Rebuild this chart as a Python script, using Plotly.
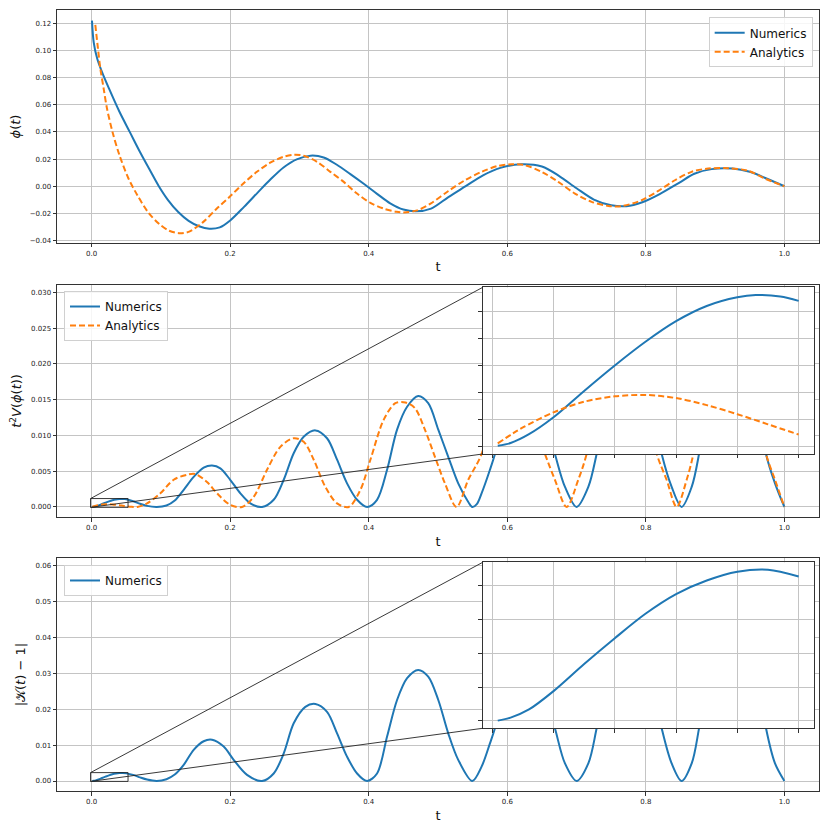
import plotly.graph_objects as go

# ---------------- data ----------------
# panel 1: phi(t)
phi_num_t = [0.0005, 0.003, 0.008, 0.015, 0.025, 0.04, 0.055, 0.07, 0.085, 0.097, 0.11,
             0.125, 0.14, 0.155, 0.17, 0.185, 0.2, 0.22, 0.24, 0.258, 0.277, 0.296, 0.316,
             0.335, 0.354, 0.3735, 0.3928, 0.412, 0.431, 0.45, 0.468, 0.49, 0.515, 0.54,
             0.565, 0.59, 0.62, 0.65, 0.675, 0.70, 0.725, 0.75, 0.772, 0.795, 0.82, 0.848,
             0.87, 0.895, 0.925, 0.95, 0.975, 1.0]
phi_num = [0.1220, 0.106, 0.094, 0.084, 0.072, 0.055, 0.040, 0.025, 0.011, 0.0, -0.010,
           -0.019, -0.0255, -0.0295, -0.0313, -0.0303, -0.0252, -0.0152, -0.0045, 0.0049,
           0.0138, 0.0198, 0.0225, 0.0212, 0.0158, 0.0089, 0.0018, -0.0056, -0.0126, -0.0172,
           -0.0185, -0.0165, -0.008, 0.0, 0.008, 0.0135, 0.0162, 0.0145, 0.0075, -0.0015,
           -0.0098, -0.014, -0.0147, -0.0118, -0.0058, 0.0025, 0.0092, 0.0126, 0.013, 0.0106,
           0.0055, 0.0]

phi_ana_t = [0.0053, 0.0091, 0.0125, 0.0173, 0.0221, 0.03, 0.04, 0.053, 0.066, 0.082, 0.098,
             0.112, 0.126, 0.14, 0.16, 0.18, 0.2, 0.219, 0.2386, 0.2578, 0.2771, 0.2916, 0.306,
             0.3253, 0.3446, 0.3639, 0.3831, 0.4024, 0.4217, 0.44, 0.4506, 0.4699, 0.4892,
             0.515, 0.5389, 0.5629, 0.587, 0.6063, 0.6255, 0.6496, 0.6736, 0.6977, 0.7218,
             0.7458, 0.7651, 0.794, 0.818, 0.842, 0.866, 0.89, 0.919, 0.948, 0.972, 1.0]
phi_ana = [0.1188, 0.1016, 0.0869, 0.0721, 0.0574, 0.0402, 0.0231, 0.0059, -0.0066, -0.0195,
           -0.0280, -0.0328, -0.0346, -0.0336, -0.0268, -0.0168, -0.0074, 0.002, 0.0106, 0.0173,
           0.0217, 0.0232, 0.0225, 0.018, 0.0106, 0.0032, -0.0054, -0.0123, -0.0165, -0.0188,
           -0.0193, -0.0178, -0.0128, -0.0035, 0.0044, 0.0106, 0.015, 0.0162, 0.0155, 0.0106,
           0.0032, -0.0054, -0.0115, -0.0145, -0.0147, -0.0103, -0.0034, 0.0044, 0.0106, 0.013,
           0.0133, 0.0113, 0.0056, 0.0]

# panel 2: t^2 V(phi(t))
pot_num_t = [0.0009, 0.003, 0.006, 0.01, 0.015, 0.02, 0.025, 0.03, 0.035, 0.04, 0.043, 0.047,
             0.05, 0.06, 0.07, 0.08, 0.094, 0.108, 0.12, 0.1329, 0.1473, 0.1617, 0.1738, 0.1858,
             0.2, 0.2147, 0.2291, 0.246, 0.2628, 0.2773, 0.2917, 0.3061, 0.323, 0.3398, 0.3543,
             0.3687, 0.3832, 0.3976, 0.412, 0.4265, 0.4409, 0.4554, 0.4714, 0.4859, 0.5004,
             0.5148, 0.5292, 0.5437, 0.5495, 0.556, 0.5629, 0.575, 0.5822, 0.60, 0.623, 0.645,
             0.6688, 0.6833, 0.7001, 0.717, 0.729, 0.75, 0.775, 0.80, 0.8229, 0.8373, 0.8517,
             0.8662, 0.8768, 0.90, 0.927, 0.95, 0.9735, 0.9865, 1.0]
pot_num = [0.000005, 0.000025, 0.00009, 0.000215, 0.00041, 0.000598, 0.000773, 0.000925,
           0.001037, 0.001101, 0.001118, 0.001108, 0.001075, 0.0008, 0.00045, 0.00015, 0.0,
           0.0002, 0.0009, 0.0024, 0.0042, 0.0055, 0.0058, 0.0054, 0.0038, 0.0019, 0.0005, 0.0,
           0.001, 0.0038, 0.0075, 0.0098, 0.0107, 0.0096, 0.0066, 0.0033, 0.001, 0.0, 0.001,
           0.0052, 0.0108, 0.014, 0.0155, 0.0145, 0.0108, 0.007, 0.0033, 0.0007, 0.0, 0.0004,
           0.0019, 0.0052, 0.0074, 0.0145, 0.0203, 0.016, 0.0074, 0.0028, 0.0, 0.0028, 0.0074,
           0.018, 0.025, 0.018, 0.0074, 0.0028, 0.0, 0.0028, 0.0074, 0.022, 0.0296, 0.022,
           0.0074, 0.0033, 0.0]

pot_ana_t = [0.0009, 0.0035, 0.005, 0.01, 0.015, 0.02, 0.025, 0.03, 0.035, 0.04, 0.045, 0.05,
             0.058, 0.066, 0.08, 0.0992, 0.1184, 0.1377, 0.1497, 0.1665, 0.181, 0.2, 0.2171,
             0.2339, 0.2532, 0.2724, 0.2917, 0.3061, 0.3206, 0.3374, 0.3543, 0.3711, 0.388,
             0.4024, 0.4217, 0.4385, 0.453, 0.4667, 0.4811, 0.4956, 0.51, 0.5268, 0.5437,
             0.5629, 0.585, 0.605, 0.625, 0.6544, 0.6688, 0.6857, 0.7025, 0.7146, 0.74, 0.76,
             0.785, 0.8157, 0.83, 0.8445, 0.859, 0.8686, 0.895, 0.915, 0.94, 0.9735, 0.9865, 1.0]
pot_ana = [0.000022, 0.0001, 0.00014, 0.000252, 0.00033, 0.00037, 0.00038, 0.000357, 0.000305,
           0.000238, 0.000163, 0.000088, 0.00002, 0.0, 0.0005, 0.0019, 0.0038, 0.0045, 0.0046,
           0.0035, 0.0019, 0.0003, 0.0, 0.0014, 0.0052, 0.0084, 0.0096, 0.0091, 0.0066, 0.0028,
           0.0005, 0.0, 0.0024, 0.0066, 0.0122, 0.0145, 0.0146, 0.0138, 0.0108, 0.007, 0.0033,
           0.0, 0.0038, 0.0074, 0.016, 0.0195, 0.016, 0.0074, 0.0038, 0.0, 0.0038, 0.0074,
           0.019, 0.024, 0.019, 0.0074, 0.0038, 0.0, 0.0038, 0.0074, 0.022, 0.0285, 0.023,
           0.0074, 0.0038, 0.0]

# panel 3: |K(t) - 1|
k_num_t = [0.0009, 0.003, 0.006, 0.01, 0.015, 0.02, 0.025, 0.03, 0.035, 0.04, 0.045, 0.05,
           0.06, 0.07, 0.08, 0.094, 0.108, 0.12, 0.1329, 0.1473, 0.1617, 0.1738, 0.1906, 0.205,
           0.2243, 0.246, 0.2628, 0.2773, 0.2917, 0.3085, 0.323, 0.3398, 0.3543, 0.3687,
           0.3832, 0.3976, 0.412, 0.4265, 0.4409, 0.4554, 0.4714, 0.4859, 0.5004, 0.5148,
           0.5292, 0.5495, 0.5629, 0.575, 0.5822, 0.60, 0.623, 0.645, 0.6688, 0.6833, 0.7001,
           0.717, 0.729, 0.75, 0.775, 0.80, 0.8229, 0.8373, 0.8517, 0.8662, 0.8768, 0.90,
           0.925, 0.95, 0.9735, 0.9865, 1.0]
k_num = [0.000005, 0.00005, 0.00017, 0.00044, 0.00084, 0.00122, 0.00158, 0.00187, 0.00207,
         0.0022, 0.00223, 0.00213, 0.0017, 0.0010, 0.0004, 0.0, 0.0005, 0.0018, 0.0045, 0.0087,
         0.0111, 0.0115, 0.0096, 0.0059, 0.0017, 0.0, 0.0021, 0.0077, 0.0161, 0.0207, 0.0215,
         0.0193, 0.0133, 0.0068, 0.0021, 0.0, 0.0021, 0.0124, 0.0226, 0.0287, 0.031, 0.0291,
         0.0226, 0.0133, 0.0059, 0.0, 0.004, 0.0105, 0.0147, 0.028, 0.0408, 0.031, 0.0147,
         0.0049, 0.0, 0.0049, 0.0147, 0.036, 0.0505, 0.036, 0.0147, 0.0049, 0.0, 0.0049,
         0.0147, 0.043, 0.059, 0.043, 0.0147, 0.0049, 0.0]

# ticks
t_ticks = [0.0, 0.2, 0.4, 0.6, 0.8, 1.0]
t_ticktext = ["0.0", "0.2", "0.4", "0.6", "0.8", "1.0"]
phi_ticks = [-0.04, -0.02, 0.0, 0.02, 0.04, 0.06, 0.08, 0.10, 0.12]
phi_ticktext = ["\u22120.04", "\u22120.02", "0.00", "0.02", "0.04", "0.06", "0.08", "0.10", "0.12"]
pot_ticks = [0.0, 0.005, 0.010, 0.015, 0.020, 0.025, 0.030]
pot_ticktext = ["0.000", "0.005", "0.010", "0.015", "0.020", "0.025", "0.030"]
k_ticks = [0.0, 0.01, 0.02, 0.03, 0.04, 0.05, 0.06]
k_ticktext = ["0.00", "0.01", "0.02", "0.03", "0.04", "0.05", "0.06"]
inset_t_ticks = [0.0, 0.01, 0.02, 0.03, 0.04, 0.05]
inset_pot_ticks = [0.0, 0.0002, 0.0004, 0.0006, 0.0008, 0.0010]
inset_k_ticks = [0.0, 0.0005, 0.0010, 0.0015, 0.0020]

ZOOM_T = 0.05  # the insets show t <= 0.05

BLUE = "#1f77b4"
ORANGE = "#ff7f0e"
FONT = "DejaVu Sans"

# ---------------- layout geometry ----------------
MAIN_X = [0.0, 1.0]
DOM_TOP = [0.7017, 1.0]
DOM_MID = [0.3505, 0.6483]
DOM_BOT = [0.0, 0.298]
INSET_X = [0.5587, 0.9938]
INSET_MID_Y = [0.4315, 0.6449]
INSET_BOT_Y = [0.0803, 0.2928]

T_RANGE = [-0.05, 1.05]
PHI_RANGE = [-0.0418, 0.1298]
POT_RANGE = [-0.00144, 0.03106]
K_RANGE = [-0.00279, 0.06215]
INSET_T_RANGE = [-0.00155, 0.05255]
INSET_POT_RANGE = [-0.000056, 0.001175]
INSET_K_RANGE = [-0.000108, 0.002339]

fig = go.Figure()


def sel(ts, vs):
    pairs = [(a, b) for a, b in zip(ts, vs) if a <= ZOOM_T]
    return [p[0] for p in pairs], [p[1] for p in pairs]


num_line = dict(color=BLUE, width=2, shape="spline", smoothing=0.9)
ana_line = dict(color=ORANGE, width=2, dash="6px,3px", shape="spline", smoothing=0.9)

# panel 1
fig.add_trace(go.Scatter(x=phi_num_t, y=phi_num, mode="lines", name="Numerics",
                         line=num_line, xaxis="x", yaxis="y", legend="legend"))
fig.add_trace(go.Scatter(x=phi_ana_t, y=phi_ana, mode="lines", name="Analytics",
                         line=ana_line, xaxis="x", yaxis="y", legend="legend"))
# panel 2
fig.add_trace(go.Scatter(x=pot_num_t, y=pot_num, mode="lines", name="Numerics",
                         line=num_line, xaxis="x2", yaxis="y2", legend="legend2"))
fig.add_trace(go.Scatter(x=pot_ana_t, y=pot_ana, mode="lines", name="Analytics",
                         line=ana_line, xaxis="x2", yaxis="y2", legend="legend2"))
# panel 3
fig.add_trace(go.Scatter(x=k_num_t, y=k_num, mode="lines", name="Numerics",
                         line=num_line, xaxis="x3", yaxis="y3", legend="legend3"))
# inset of panel 2
tx, vy = sel(pot_num_t, pot_num)
fig.add_trace(go.Scatter(x=tx, y=vy, mode="lines", line=num_line, showlegend=False,
                         xaxis="x4", yaxis="y4"))
tx, vy = sel(pot_ana_t, pot_ana)
fig.add_trace(go.Scatter(x=tx, y=vy, mode="lines", line=ana_line, showlegend=False,
                         xaxis="x4", yaxis="y4"))
# inset of panel 3
tx, vy = sel(k_num_t, k_num)
fig.add_trace(go.Scatter(x=tx, y=vy, mode="lines", line=num_line, showlegend=False,
                         xaxis="x5", yaxis="y5"))

tick_font = dict(family=FONT, size=7, color="#222222")
title_font = dict(family=FONT, size=13, color="#111111")
grid = dict(showgrid=True, gridcolor="#c4c4c4", gridwidth=1, zeroline=False,
            showline=True, linecolor="#333333", linewidth=1, mirror=True,
            ticks="outside", ticklen=3.5, tickwidth=0.8, tickcolor="#333333",
            tickfont=tick_font, automargin=False)


def main_x(anchor):
    return dict(domain=MAIN_X, anchor=anchor, range=T_RANGE, tickvals=t_ticks,
                ticktext=t_ticktext, title=dict(text="t", font=title_font, standoff=5), **grid)


def main_y(anchor, dom, rng, tv, tt, title):
    return dict(domain=dom, anchor=anchor, range=rng, tickvals=tv, ticktext=tt,
                title=dict(text=title, font=title_font, standoff=6), **grid)


def inset_ax(anchor, dom, rng, tv):
    return dict(domain=dom, anchor=anchor, range=rng, tickvals=tv,
                showticklabels=False, **grid)


legend_style = dict(bgcolor="rgba(255,255,255,0.85)", bordercolor="#d0d0d0", borderwidth=1,
                    font=dict(family=FONT, size=12, color="#111111"),
                    tracegroupgap=0, itemwidth=30)

fig.update_layout(
    width=830, height=830,
    margin=dict(l=57, r=11, t=10, b=39, autoexpand=False),
    paper_bgcolor="white", plot_bgcolor="white",
    font=dict(family=FONT),
    xaxis=main_x("y"),
    yaxis=main_y("x", DOM_TOP, PHI_RANGE, phi_ticks, phi_ticktext,
                 "<i>ϕ</i>(<i>t</i>)"),
    xaxis2=main_x("y2"),
    yaxis2=main_y("x2", DOM_MID, POT_RANGE, pot_ticks, pot_ticktext,
                  "<i>t</i><sup>2</sup><i>V</i>(<i>ϕ</i>(<i>t</i>))"),
    xaxis3=main_x("y3"),
    yaxis3=main_y("x3", DOM_BOT, K_RANGE, k_ticks, k_ticktext,
                  "|𝒦(<i>t</i>) − 1|"),
    xaxis4=inset_ax("y4", INSET_X, INSET_T_RANGE, inset_t_ticks),
    yaxis4=inset_ax("x4", INSET_MID_Y, INSET_POT_RANGE, inset_pot_ticks),
    xaxis5=inset_ax("y5", INSET_X, INSET_T_RANGE, inset_t_ticks),
    yaxis5=inset_ax("x5", INSET_BOT_Y, INSET_K_RANGE, inset_k_ticks),
    legend=dict(x=0.9917, y=0.9906, xanchor="right", yanchor="top", **legend_style),
    legend2=dict(x=0.0092, y=0.6402, xanchor="left", yanchor="top", **legend_style),
    legend3=dict(x=0.0092, y=0.2894, xanchor="left", yanchor="top", **legend_style),
)


def to_data(p, dom, rng):
    return rng[0] + (p - dom[0]) / (dom[1] - dom[0]) * (rng[1] - rng[0])


def add_zoom_marks(xref, yref, dom_y, y_rng, inset_y_dom, inset_y_rng):
    edge = dict(color="#222222", width=0.9)
    # rectangle showing the zoomed region
    fig.add_shape(type="rect", xref=xref, yref=yref,
                  x0=INSET_T_RANGE[0], x1=INSET_T_RANGE[1],
                  y0=inset_y_rng[0], y1=inset_y_rng[1], line=edge, layer="above")
    # connectors to the inset's left corners
    cx = to_data(INSET_X[0], MAIN_X, T_RANGE)
    for ry, iy in [(inset_y_rng[1], inset_y_dom[1]), (inset_y_rng[0], inset_y_dom[0])]:
        fig.add_shape(type="line", xref=xref, yref=yref,
                      x0=INSET_T_RANGE[0], y0=ry,
                      x1=cx, y1=to_data(iy, dom_y, y_rng), line=edge, layer="above")


add_zoom_marks("x2", "y2", DOM_MID, POT_RANGE, INSET_MID_Y, INSET_POT_RANGE)
add_zoom_marks("x3", "y3", DOM_BOT, K_RANGE, INSET_BOT_Y, INSET_K_RANGE)

# the page's default body margin would shift the 830x830 figure
fig.write_html("out.html", config={"displayModeBar": False},
               post_script="document.body.style.margin = '0';")
